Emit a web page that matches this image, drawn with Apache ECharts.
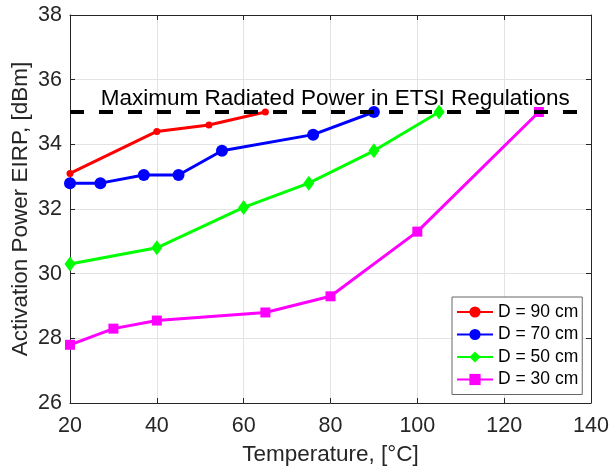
<!DOCTYPE html>
<html>
<head>
<meta charset="utf-8">
<script src="https://cdn.jsdelivr.net/npm/echarts@6/dist/echarts.min.js"></script>
<style>
html,body{margin:0;padding:0;background:#fff;}
#chart{width:612px;height:470px;}
</style>
</head>
<body>
<div id="chart"></div>
<script>
// ---- data ----
const seriesNames = ['D = 90 cm', 'D = 70 cm', 'D = 50 cm', 'D = 30 cm'];
const temp90 = [20, 40, 52, 65];
const pow90  = [33.1, 34.4, 34.6, 35.0];
const temp70 = [20, 27, 37, 45, 55, 76, 90];
const pow70  = [32.8, 32.8, 33.05, 33.05, 33.8, 34.3, 35.0];
const temp50 = [20, 40, 60, 75, 90, 105];
const pow50  = [30.3, 30.8, 32.05, 32.8, 33.8, 35.0];
const temp30 = [20, 30, 40, 65, 80, 100, 128];
const pow30  = [27.8, 28.3, 28.55, 28.8, 29.3, 31.3, 35.0];
const etsiLimit = 35;
const etsiRange = [20, 140];
const etsiText = 'Maximum Radiated Power in ETSI Regulations';
const xTitle = 'Temperature, [°C]';
const yTitle = 'Activation Power EIRP, [dBm]';

const zip = (xs, ys) => xs.map((x, i) => [x, ys[i]]);

const FONT = 'Liberation Sans, Arial, Helvetica, sans-serif';
const TXT = '#262626';

const chart = echarts.init(document.getElementById('chart'), null, {renderer: 'canvas'});

function boxAxis(pos, isX) {
  return {
    type: 'value', position: pos,
    min: isX ? 20 : 26, max: isX ? 140 : 38, interval: isX ? 20 : 2,
    axisLine: {show: true, onZero: false, lineStyle: {color: TXT, width: 1}},
    axisTick: {show: true, inside: true, length: 5, lineStyle: {color: TXT}},
    axisLabel: {show: false},
    splitLine: {show: false}
  };
}

const lineSeries = (name, data, color, symbol, size) => ({
  name, type: 'line', data, xAxisIndex: 0, yAxisIndex: 0,
  symbol, symbolSize: size, showSymbol: true,
  lineStyle: {color, width: 3},
  itemStyle: {color, borderColor: color, borderWidth: 0},
  emphasis: {disabled: true},
  z: 3
});

chart.setOption({
  animation: false,
  backgroundColor: '#fff',
  textStyle: {fontFamily: FONT},
  grid: {left: 70, top: 15, right: 21, bottom: 67, containLabel: false, outerBoundsMode: 'none'},
  xAxis: [{
    type: 'value', position: 'bottom',
    min: 20, max: 140, interval: 20,
    name: xTitle, nameLocation: 'middle', nameGap: 40, nameMoveOverlap: false,
    nameTextStyle: {color: TXT, fontSize: 22.5, fontFamily: FONT},
    axisLine: {show: true, onZero: false, lineStyle: {color: TXT, width: 1}},
    axisTick: {show: true, inside: true, length: 5, lineStyle: {color: TXT}},
    axisLabel: {color: TXT, fontSize: 21.5, fontFamily: FONT, margin: 12},
    splitLine: {show: true, lineStyle: {color: '#e3e3e3', width: 1}}
  }, boxAxis('top', true)],
  yAxis: [{
    type: 'value', position: 'left',
    min: 26, max: 38, interval: 2,
    name: yTitle, nameLocation: 'middle', nameGap: 38, nameMoveOverlap: false,
    nameTextStyle: {color: TXT, fontSize: 22.5, fontFamily: FONT},
    axisLine: {show: true, onZero: false, lineStyle: {color: TXT, width: 1}},
    axisTick: {show: true, inside: true, length: 5, lineStyle: {color: TXT}},
    axisLabel: {color: TXT, fontSize: 21.5, fontFamily: FONT, margin: 8},
    splitLine: {show: true, lineStyle: {color: '#e3e3e3', width: 1}}
  }, boxAxis('right', false)],
  legend: {
    data: seriesNames,
    orient: 'vertical',
    left: 452, top: 297,
    padding: [6, 4, 6, 4],
    itemWidth: 36, itemHeight: 14, itemGap: 4.5,
    backgroundColor: '#fff',
    borderColor: '#666', borderWidth: 1, borderRadius: 0,
    textStyle: {color: '#000', fontSize: 17.5, fontFamily: FONT},
    selectedMode: false
  },
  series: [
    lineSeries(seriesNames[0], zip(temp90, pow90), '#ff0000', 'circle', 7),
    lineSeries(seriesNames[1], zip(temp70, pow70), '#0000ff', 'circle', 12),
    lineSeries(seriesNames[2], zip(temp50, pow50), '#00ff00', 'diamond', [11, 15]),
    lineSeries(seriesNames[3], zip(temp30, pow30), '#ff00ff', 'rect', 10),
    {
      name: 'ETSI', type: 'line',
      data: etsiRange.map(x => [x, etsiLimit]),
      symbol: 'none',
      lineStyle: {color: '#000', width: 4, type: [14, 15]},
      emphasis: {disabled: true},
      z: 5
    }
  ]
});

// annotation text anchored in data coordinates
const p = chart.convertToPixel({xAxisIndex: 0, yAxisIndex: 0}, [27.1, etsiLimit]);
chart.setOption({
  graphic: [{
    type: 'text', left: p[0], top: p[1] - 25, z: 10,
    style: {text: etsiText, fill: '#000', font: '22.5px ' + FONT}
  }]
});
</script>
</body>
</html>
